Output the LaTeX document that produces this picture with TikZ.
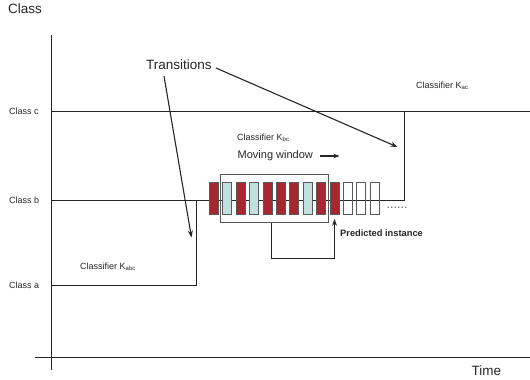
\documentclass[tikz,border=0pt]{standalone}
\usepackage{fontspec}
\setmainfont{Liberation Sans}
\usetikzlibrary{arrows.meta}
\definecolor{boxred}{HTML}{A8262F}
\definecolor{boxcyan}{HTML}{BFE2DF}
\definecolor{edgegrey}{HTML}{5A5A5A}
\definecolor{ink}{HTML}{262626}
\begin{document}
\begin{tikzpicture}[x=1pt,y=-1pt,
  lbl/.style={font=\fontsize{9}{10}\selectfont, inner sep=0pt, anchor=west, text=ink},
  big/.style={font=\fontsize{13.5}{16}\selectfont, inner sep=0pt, anchor=west, text=ink},
  mid/.style={font=\fontsize{11}{13}\selectfont, inner sep=0pt, anchor=west, text=ink},
  ln/.style={line width=1pt, draw=ink},
  axis/.style={line width=0.8pt, draw=ink},
  arr/.style={line width=1.1pt, draw=ink, -{Stealth[length=7pt,width=5pt]}},
  inst/.style={draw=edgegrey, line width=0.7pt, minimum width=9pt, minimum height=32pt, inner sep=0pt},
  rbox/.style={inst, fill=boxred},
  cbox/.style={inst, fill=boxcyan},
  wbox/.style={inst},
  winbox/.style={draw=edgegrey, line width=0.8pt, minimum width=107.5pt, minimum height=48.5pt, inner sep=0pt}
]
\useasboundingbox (0,0) rectangle (530,380);

% axes
\coordinate (ytop) at (51.7,35);
\coordinate (ybot) at (51.7,370);
\coordinate (xl) at (35,357);
\coordinate (xr) at (530,357);
\draw[axis] (ytop) -- (ybot);
\draw[axis] (xl) -- (xr);

% axis labels
\node[big] (cls) at (8,8.5) {Class};
\node[big] (time) at (471.5,371) {Time};
\node[lbl] (lc) at (9,111) {Class c};
\node[lbl] (lb) at (9,200) {Class b};
\node[lbl] (la) at (9,285) {Class a};

% class signal
\coordinate (a0) at (51.7,285);
\coordinate (a1) at (196.5,285);
\coordinate (b0) at (51.7,200);
\coordinate (b1) at (196.5,200);
\coordinate (b2) at (404,200);
\coordinate (c1) at (404,111);
\coordinate (c0) at (51.7,111);
\coordinate (c2) at (530,111);
\draw[ln] (a0) -- (a1) -- (b1);
\draw[ln] (b0) -- (b2) -- (c1);
\draw[ln] (c0) -- (c2);

% instances
\node[rbox] (i1)  at (213.7,198.5) {};
\node[cbox] (i2)  at (227.2,198.5) {};
\node[rbox] (i3)  at (240.6,198.5) {};
\node[cbox] (i4)  at (254.0,198.5) {};
\node[rbox] (i5)  at (267.4,198.5) {};
\node[rbox] (i6)  at (280.8,198.5) {};
\node[rbox] (i7)  at (294.2,198.5) {};
\node[cbox] (i8)  at (307.6,198.5) {};
\node[rbox] (i9)  at (321.0,198.5) {};
\node[rbox] (i10) at (334.5,198.5) {};
\node[wbox] (i11) at (347.8,198.5) {};
\node[wbox] (i12) at (361.2,198.5) {};
\node[wbox] (i13) at (374.6,198.5) {};
\node[inner sep=0pt, anchor=west, text=edgegrey, font=\fontsize{12.5}{14}\selectfont] (dots) at (386.5,208) {......};

% moving window
\node[winbox] (win) at (274.25,198.25) {};
\node[mid] (mw) at (237.5,156) {Moving window};
\coordinate (mwend) at (339.5,156);
\draw[line width=1.1pt, draw=ink, -{Stealth[length=6pt,width=4.5pt]}] ([xshift=7pt]mw.east) -- (mwend);

% feedback
\coordinate (fb) at (271.7,258.3);
\draw[arr] (win.south -| fb) -- (fb) -| ([yshift=-4pt]i10.south);
\node[lbl, font=\bfseries\fontsize{9.3}{11}\selectfont] (pred) at (340,233) {Predicted instance};

% classifier labels
\node[lbl] (kabc) at (80,267) {Classifier K\textsubscript{abc}};
\node[lbl] (kbc) at (237,138) {Classifier K\textsubscript{bc}};
\node[lbl] (kac) at (416,86) {Classifier K\textsubscript{ac}};

% transitions
\node[big] (tr) at (146,65) {Transitions};
\coordinate (t1) at (191.5,237.5);
\coordinate (t2) at (397.5,147);
\draw[arr] ([xshift=18pt,yshift=-6pt]tr.south west) -- (t1);
\draw[arr] ([xshift=4pt,yshift=-3pt]tr.east) -- (t2);
\end{tikzpicture}
\end{document}
